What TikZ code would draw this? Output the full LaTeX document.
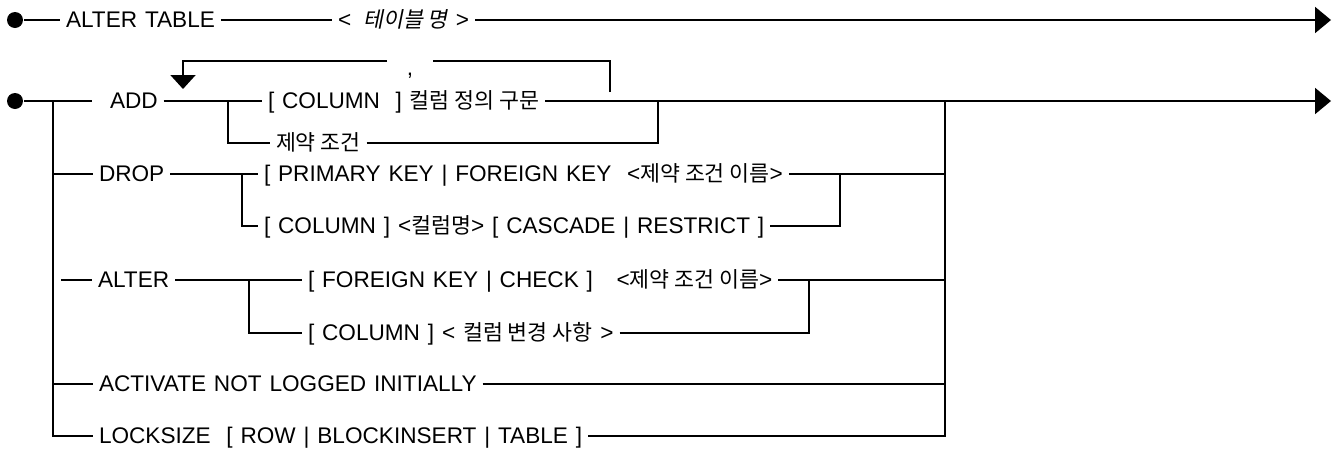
\documentclass[tikz,border=0pt]{standalone}
\usepackage{fontspec}
\setmainfont{Liberation Sans}[WordSpace=1.25]
\newfontfamily\kr[Scale=0.96]{Noto Sans CJK KR}
\newfontfamily\krsl[Scale=0.96,FakeSlant=0.2]{Noto Sans CJK KR}
\usetikzlibrary{arrows.meta, calc}

\begin{document}
\begin{tikzpicture}[x=0.5pt, y=-0.5pt, line width=1pt,
    dot/.style={circle, fill=black, inner sep=0pt, minimum size=8pt},
    kw/.style={anchor=west, inner xsep=2.5pt, inner ysep=0pt, text height=9pt, text depth=1.5pt,
      font=\fontsize{11.3}{13}\selectfont},
    tip/.style={-{Triangle[length=8pt, width=13pt]}},
    back/.style={-{Triangle[length=7pt, width=12.5pt]}}
  ]
    \useasboundingbox (0,0) rectangle (1337,450);
    % ALTER TABLE <name>
    \node[dot] (s0) at (15,20) {};
    \node[kw] (tbl) at (60,20) {ALTER TABLE};
    \node[kw] (tname) at (332,20) {<\hspace{6pt}{\krsl 테이블 명}\hspace{4pt}>};
    \coordinate (e0) at (1331,20);
    \draw (s0) -- (tbl) -- (tname);
    \draw[tip] (tname) -- (e0);
    % ADD
    \node[dot] (s1) at (15,101) {};
    \node[kw] (add) at (92,101) {\hspace{6pt}ADD};
    \coordinate (a1) at (228,101);
    \node[kw] (col) at (262,101) {[ COLUMN\ \ ] {\kr 컬럼 정의 구문}};
    \node[kw] (cons) at (270,143) {{\kr 제약 조건}\hspace{4pt}};
    \coordinate (j1) at (658,101);
    \coordinate (j2) at (945,101);
    \coordinate (e1) at (1331,101);
    \draw (s1) -- (add) -- (col);
    \draw[tip] (col) -- (e1);
    \draw (a1) |- (cons);
    \draw (cons) -| (j1);
    % repeat with comma
    \coordinate (lp0) at (610,92);
    \coordinate (lp1) at (610,61);
    \coordinate (lp2) at (433,61);
    \node[kw, anchor=center] (sep) at (410,68) {,};
    \coordinate (lp3) at (387,61);
    \coordinate (lp4) at (183,61);
    \coordinate (lp5) at (183,89);
    \draw (lp0) -- (lp1) -- (lp2);
    \draw[back] (lp3) -- (lp4) -- (lp5);
    % DROP
    \coordinate (l2) at (53,174);
    \node[kw] (drop) at (93,174) {DROP};
    \coordinate (a2) at (242,174);
    \node[kw] (dpk) at (258,174) {[ PRIMARY KEY | FOREIGN KEY\ \ <{\kr 제약 조건 이름}>\hspace{4.5pt}};
    \node[kw] (dcol) at (258,226) {[ COLUMN ] <{\kr 컬럼명}> [ CASCADE | RESTRICT ]};
    \coordinate (b2) at (840,174);
    \coordinate (r2) at (945,174);
    \draw (l2) -- (drop) -- (dpk) -- (r2);
    \draw (a2) |- (dcol);
    \draw (dcol) -| (b2);
    % ALTER
    \coordinate (l3) at (61,280);
    \node[kw] (alt) at (92,280) {ALTER};
    \coordinate (a3) at (249,280);
    \node[kw] (afk) at (302,280) {[ FOREIGN KEY | CHECK ]\ \ \ <{\kr 제약 조건 이름}>\hspace{4.5pt}};
    \node[kw] (acol) at (302,333) {[ COLUMN ] < {\kr 컬럼 변경 사항} >};
    \coordinate (b3) at (809,280);
    \coordinate (r3) at (945,280);
    \draw (l3) -- (alt) -- (afk) -- (r3);
    \draw (a3) |- (acol);
    \draw (acol) -| (b3);
    % ACTIVATE NOT LOGGED INITIALLY
    \coordinate (l4) at (53,384);
    \node[kw] (act) at (93,384) {ACTIVATE NOT LOGGED INITIALLY};
    \coordinate (r4) at (945,384);
    \draw (l4) -- (act) -- (r4);
    % LOCKSIZE
    \coordinate (l0) at (53,101);
    \node[kw] (lock) at (93,436) {LOCKSIZE\ \ [ ROW | BLOCKINSERT | TABLE ]};
    \draw (l0) |- (lock);
    \draw (lock) -| (j2);
\end{tikzpicture}
\end{document}
